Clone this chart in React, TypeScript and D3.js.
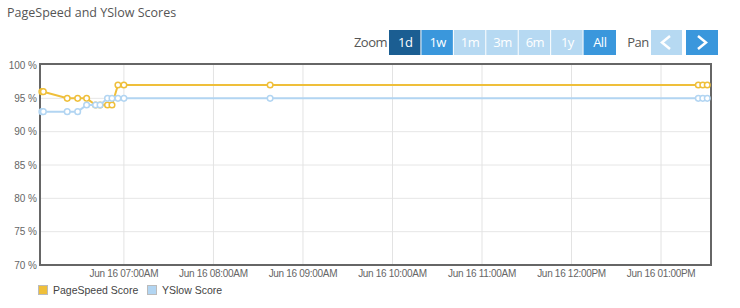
import React from "react";
import * as d3 from "d3";

const times = ["06:05","06:06","06:22","06:29","06:35","06:41","06:44","06:49","06:52","06:56","07:00","08:38","13:25","13:28","13:31"];
const pageSpeed = [96,96,95,95,95,94,94,94,94,97,97,97,97,97,97];
const ySlow = [93,93,93,93,94,94,94,95,95,95,95,95,95,95,95];
const yTicks = [70,75,80,85,90,95,100];
const xTickTimes = ["07:00","08:00","09:00","10:00","11:00","12:00","13:00"];
const xTickLabels = ["Jun 16 07:00AM","Jun 16 08:00AM","Jun 16 09:00AM","Jun 16 10:00AM","Jun 16 11:00AM","Jun 16 12:00PM","Jun 16 01:00PM"];
const zoomButtons = ["1d","1w","1m","3m","6m","1y","All"];
const zoomStates = ["active","on","off","off","off","off","on"];
const seriesNames = ["PageSpeed Score","YSlow Score"];
const seriesColors = ["#efbf3a","#b2d5f2"];

const W = 740, H = 308;
const toDate = (s: string) => { const [h, m] = s.split(":").map(Number); return new Date(2015, 5, 16, h, m); };

export default function App() {
  const left = 40, right = 711, top = 65, bottom = 265;
  const x = d3.scaleTime().domain([new Date(2015,5,16,6,3,45), new Date(2015,5,16,13,33,30)]).range([left, right]);
  const y = d3.scaleLinear().domain([70, 100]).range([bottom, top]);
  const line = d3.line<number>().x((_, i) => x(toDate(times[i]))).y(d => y(d));
  const series = [pageSpeed, ySlow];
  const btnColor = (s: string) => s === "active" ? "#1b5e92" : s === "on" ? "#3a97dc" : "#b6d9f2";
  const bx = d3.scaleBand().domain(zoomButtons).range([389, 616]);
  const font = "'Liberation Sans', Arial, sans-serif";
  const legendX = [38, 147];
  return (
    <svg width={W} height={H} style={{ position: "absolute", left: 0, top: 0, background: "#fff" }} fontFamily={font}>
      <text x={7} y={17} fontSize={12.5} fill="#555" fontFamily="'Open Sans', sans-serif">PageSpeed and YSlow Scores</text>
      <text x={389 - 2} y={47} fontSize={13} fill="#555" textAnchor="end" fontFamily="'Open Sans', sans-serif" letterSpacing={-0.5}>Zoom</text>
      {zoomButtons.map((b, i) => (
        <g key={b}>
          <rect x={bx(b)!} y={30} width={bx.bandwidth() - (i < zoomButtons.length - 1 ? 1 : 0)} height={25} fill={btnColor(zoomStates[i])} />
          <text x={bx(b)! + bx.bandwidth() / 2} y={47} fontSize={13} fill="#fff" textAnchor="middle" fontFamily="'Open Sans', sans-serif" letterSpacing={-0.5}>{b}</text>
        </g>
      ))}
      <text x={638} y={47} fontSize={13} fill="#555" textAnchor="middle" fontFamily="'Open Sans', sans-serif" letterSpacing={-0.5}>Pan</text>
      <rect x={651} y={30} width={31} height={25} fill="#b6d9f2" />
      <path d="M670,36 L662,42.5 L670,49" fill="none" stroke="#fff" strokeWidth={2.5} />
      <rect x={686} y={30} width={32} height={25} fill="#3a97dc" />
      <path d="M698,36 L706,42.5 L698,49" fill="none" stroke="#fff" strokeWidth={2.5} />
      {yTicks.map(t => (
        <g key={t}>
          {t > 70 && t < 100 && <line x1={left} x2={right} y1={y(t)} y2={y(t)} stroke="#e6e6e6" />}
          <text x={37} y={y(t) + 3.5} fontSize={10} fill="#666" textAnchor="end">{t} %</text>
        </g>
      ))}
      {xTickTimes.map((t, i) => (
        <g key={t}>
          <line x1={x(toDate(t))} x2={x(toDate(t))} y1={top} y2={bottom} stroke="#e3e3e3" />
          <text x={x(toDate(t))} y={277} fontSize={10} fill="#666" textAnchor="middle" letterSpacing={-0.3}>{xTickLabels[i]}</text>
        </g>
      ))}
      <rect x={left} y={top - 1} width={right - left} height={bottom - top + 1} fill="none" stroke="#666" strokeWidth={2} />
      {series.map((s, k) => (
        <g key={k}>
          <path d={line(s)!} fill="none" stroke={seriesColors[k]} strokeWidth={2} />
          {s.map((v, i) => (
            <circle key={i} cx={x(toDate(times[i]))} cy={y(v)} r={2.8} fill="#fff" stroke={seriesColors[k]} strokeWidth={1.5} />
          ))}
        </g>
      ))}
      {seriesNames.map((n, k) => {
        const lx = legendX[k];
        return (
          <g key={n}>
            <rect x={lx + 0.5} y={285.5} width={9} height={9} fill={seriesColors[k]} stroke="#bbb" />
            <text x={lx + 15} y={294} fontSize={10.5} fill="#444">{n}</text>
          </g>
        );
      })}
    </svg>
  );
}
